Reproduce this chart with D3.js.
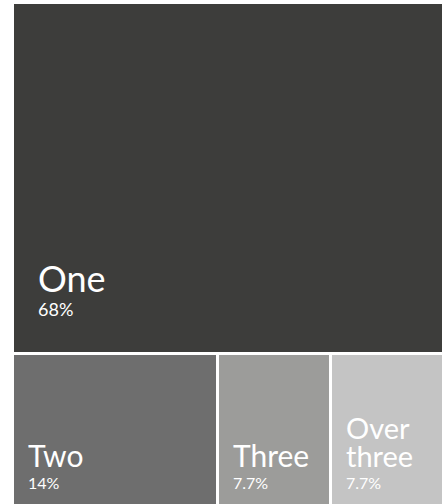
<!DOCTYPE html>
<html>
<head>
<meta charset="utf-8">
<script src="https://cdn.jsdelivr.net/npm/d3@7"></script>
<style>
  html, body { margin: 0; padding: 0; background: #fff; overflow: hidden; }
  svg { display: block; }
  text { font-family: Lato, "Noto Sans", sans-serif; fill: #fff; }
</style>
</head>
<body>
<div id="chart"></div>
<script>
// DATA
const categories = ['One', 'Two', 'Three', 'Over three'];
const shares = [68, 14, 7.7, 7.7];
const shareLabels = ['68%', '14%', '7.7%', '7.7%'];
const colors = ['#3d3d3b', '#6e6e6e', '#9c9c9a', '#c4c4c4'];

const width = 442, height = 504;
const marginLeft = 14, marginTop = 4;

const svg = d3.select('#chart').append('svg')
    .attr('width', width)
    .attr('height', height);

const root = d3.hierarchy({
        children: categories.map((c, i) => ({ name: c, value: shares[i], label: shareLabels[i], color: colors[i] }))
    })
    .sum(d => d.value || 0);

d3.treemap()
    .tile(d3.treemapSquarify.ratio(1))
    .size([width - marginLeft, height - marginTop])
    .paddingInner(3)
    .round(true)(root);

const cell = svg.selectAll('g.cell')
    .data(root.leaves())
    .join('g')
    .attr('class', 'cell')
    .attr('transform', d => `translate(${d.x0 + marginLeft},${d.y0 + marginTop})`);

cell.append('rect')
    .attr('width', d => d.x1 - d.x0)
    .attr('height', d => d.y1 - d.y0)
    .attr('fill', d => d.data.color);

//LABELS
cell.each(function(d) {
    const g = d3.select(this);
    const w = d.x1 - d.x0, h = d.y1 - d.y0;
    const big = d.data.value > 50;
    const nameSize = big ? 36 : 30;
    const pctSize = big ? 18 : 16;
    const padX = big ? 24 : 14;
    const pctBase = h - (big ? 36 : 15);
    const nameBase = pctBase - (big ? 24 : 22);

    g.append('text')
        .attr('x', padX)
        .attr('y', pctBase)
        .style('font-size', pctSize + 'px')
        .text(d.data.label);

    const words = d.data.name.split(' ');
    const probe = g.append('text')
        .style('font-size', nameSize + 'px')
        .text(d.data.name);
    const fits = probe.node().getComputedTextLength() <= w - padX - 4;
    probe.remove();

    // wrap words into separate texts if the label doesn't fit
    const lines = fits ? [d.data.name] : words;
    lines.forEach((ln, i) => {
        g.append('text')
            .attr('x', padX)
            .attr('y', nameBase - (lines.length - 1 - i) * 28)
            .style('font-size', (fits ? nameSize : nameSize - 1) + 'px')
            .text(ln);
    });
});
</script>
</body>
</html>
